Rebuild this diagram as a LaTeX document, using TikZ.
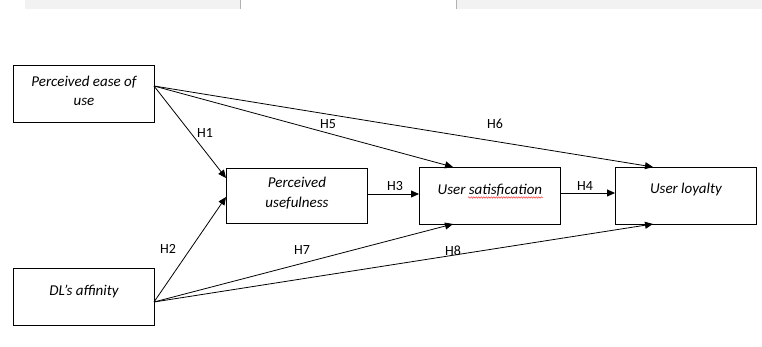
\documentclass[tikz,border=0pt]{standalone}
\usepackage{fontspec}
\setmainfont{Carlito}
\usetikzlibrary{arrows.meta,decorations.pathmorphing}
\begin{document}
\begin{tikzpicture}[x=1pt,y=-1pt,
  box/.style={draw,line width=0.9pt,minimum width=141pt,minimum height=57pt,inner sep=0pt,anchor=north west},
  txt/.style={font=\itshape\fontsize{15}{19.5}\selectfont,align=center,inner sep=0pt},
  arr/.style={draw,line width=0.8pt,-{Triangle[length=8pt,width=7pt]}},
  lab/.style={font=\fontsize{14}{16}\selectfont,inner sep=0pt}]
\useasboundingbox (0,0) rectangle (762,347);
% partial grey bars at top
\fill[gray!10] (25,0) rectangle (240,9);
\draw[gray!60,line width=0.8pt] (240,0) -- (240,9);
\fill[gray!10] (457,0) rectangle (762,9);
\draw[gray!60,line width=0.8pt] (456,0) -- (456,9);
% boxes
\node[box] (peou) at (13,65) {};
\node[box] (dl) at (13,268) {};
\node[box,minimum height=55pt] (pu) at (226,168) {};
\node[box] (us) at (419,167) {};
\node[box] (ul) at (615,167) {};
% box texts
\node[txt] (peout) at ([yshift=3pt]peou.center) {Perceived ease of\\use};
\node[txt] (dlt) at ([yshift=5pt]dl.center) {DL’s affinity};
\node[txt] (put) at ([yshift=3pt]pu.center) {Perceived\\usefulness};
\node[txt] (ust) at ([yshift=6pt]us.center) {User satisfication};
\node[txt] (ult) at ([yshift=6pt]ul.center) {User loyalty};
% anchor points
\coordinate (p0) at (154,86);
\coordinate (d0) at (154,302);
\coordinate (puA) at (226,178);
\coordinate (puB) at (226,197);
\coordinate (usT) at (453,167);
\coordinate (usB) at (453,224);
\coordinate (ulT) at (653,167);
\coordinate (ulB) at (653,224);
\coordinate (puR) at (367,194);
\coordinate (usL) at (419,194);
\coordinate (usR) at (561,193);
\coordinate (ulL) at (615,193);
% arrows
\draw[arr] (p0) -- (puA);
\draw[arr] (d0) -- (puB);
\draw[arr] (p0) -- (usT);
\draw[arr] (p0) -- (ulT);
\draw[arr] (puR) -- (usL);
\draw[arr] (usR) -- (ulL);
\draw[arr] (d0) -- (usB);
\draw[arr] (d0) -- (ulB);
% labels
\node[lab] (h1) at (205,133) {H1};
\node[lab] (h2) at (168,249) {H2};
\node[lab] (h3) at (395,186) {H3};
\node[lab] (h4) at (585,186) {H4};
\node[lab] (h5) at (328,124) {H5};
\node[lab] (h6) at (495,124) {H6};
\node[lab] (h7) at (302,250) {H7};
\node[lab] (h8) at (453,251) {H8};
% spell-check underline
\draw[red!80,line width=0.5pt,decorate,decoration={snake,amplitude=0.7pt,segment length=2.5pt}] (468,197.5) -- (543,197.5);
\end{tikzpicture}
\end{document}
